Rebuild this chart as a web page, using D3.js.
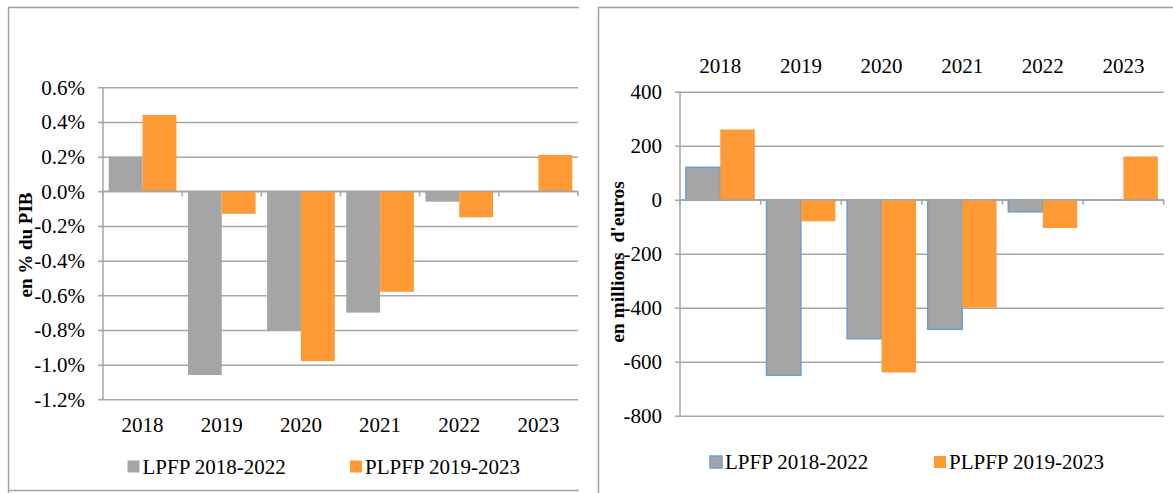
<!DOCTYPE html>
<html>
<head>
<meta charset="utf-8">
<script src="https://cdn.jsdelivr.net/npm/d3@7"></script>
<style>
  body { margin: 0; background: #fff; }
  svg text { font-family: "Liberation Serif", "Times New Roman", serif; fill: #000; }
</style>
</head>
<body>
<svg id="chart" width="1173" height="493"></svg>
<script>
const years = ["2018", "2019", "2020", "2021", "2022", "2023"]
const seriesNames = ["LPFP 2018-2022", "PLPFP 2019-2023"]

// deficit in % of GDP
const pibLPFP = [0.20, -1.06, -0.80, -0.70, -0.06, null]
const pibPLPFP = [0.44, -0.13, -0.98, -0.58, -0.15, 0.21]
const pibTicks = [0.6, 0.4, 0.2, 0.0, -0.2, -0.4, -0.6, -0.8, -1.0, -1.2]

// in millions of euros
const eurLPFP = [120, -650, -515, -480, -45, null]
const eurPLPFP = [260, -80, -640, -400, -105, 160]
const eurTicks = [400, 200, 0, -200, -400, -600, -800]

const GRAY = "#a5a5a5"
const ORANGE = "#ff9a35"
const BLUE = "#6a9fd6"
const GRID = "#a6a6a6"
const FONT = '"Liberation Serif", "Times New Roman", serif'

const svg = d3.select("#chart")

// panel frames
const frame = svg.append("g").attr("stroke", "#a0a0a0").attr("stroke-width", 1.5).attr("fill", "none")
frame.append("path").attr("d", "M8.5,493 V7.5 H579")
frame.append("path").attr("d", "M8.5,490.5 H579")
frame.append("path").attr("d", "M598.5,493 V7.5 H1173")

function drawChart(opts) {
  const g = svg.append("g")
  const x = d3.scaleBand().domain(years).range([opts.x0, opts.x1])
  const xs = d3.scaleBand().domain(seriesNames).range([0, x.bandwidth()]).paddingOuter(0.17)
  const y = d3.scaleLinear().domain(opts.domain).range([opts.y0, opts.y1])

  // gridlines + tick labels
  const yAxis = d3.axisLeft(y)
    .tickValues(opts.ticks)
    .tickSize(-(opts.x1 - opts.x0 + 5))
    .tickPadding(13)
    .tickFormat(opts.fmt)
  const ya = g.append("g")
    .attr("transform", `translate(${opts.x0 - 5},0)`)
    .call(yAxis)
    .attr("font-family", null)
    .attr("font-size", null)
  ya.select(".domain").remove()
  ya.selectAll(".tick line").attr("stroke", GRID).attr("stroke-width", 1.5)
  ya.selectAll(".tick text")
    .attr("fill", "#000")
    .style("font-size", "21px")
    .style("font-family", FONT)

  // bars
  const rows = years.map((yr, i) => ({ year: yr, vals: [opts.a[i], opts.b[i]] }))
  const grp = g.selectAll(".cat").data(rows).join("g")
    .attr("class", "cat")
    .attr("transform", d => `translate(${x(d.year)},0)`)
  grp.selectAll("rect")
    .data(d => d.vals.map((v, j) => ({ v, s: seriesNames[j], j })).filter(e => e.v !== null))
    .join("rect")
    .attr("x", d => xs(d.s))
    .attr("width", xs.bandwidth())
    .attr("y", d => y(Math.max(0, d.v)))
    .attr("height", d => Math.abs(y(d.v) - y(0)))
    .attr("fill", d => d.j === 0 ? GRAY : ORANGE)
    .attr("stroke", d => d.j === 0 ? opts.grayStroke : "none")
    .attr("stroke-width", 1.5)

  // axes lines
  g.append("line")
    .attr("x1", opts.x0).attr("x2", opts.x0)
    .attr("y1", opts.y1).attr("y2", opts.y0)
    .attr("stroke", GRID).attr("stroke-width", 1.5)
  g.append("line")
    .attr("x1", opts.x0).attr("x2", opts.x1)
    .attr("y1", y(0)).attr("y2", y(0))
    .attr("stroke", GRID).attr("stroke-width", 1.5)
  const bounds = years.map(yr => x(yr)).concat([opts.x1])
  g.selectAll(".xtick").data(bounds).join("line")
    .attr("x1", d => d).attr("x2", d => d)
    .attr("y1", y(0)).attr("y2", y(0) + 5)
    .attr("stroke", GRID).attr("stroke-width", 1.5)

  // category labels
  g.selectAll(".year").data(years).join("text")
    .attr("x", d => x(d) + x.bandwidth() / 2)
    .attr("y", opts.yearY)
    .attr("dy", "0.35em")
    .attr("text-anchor", "middle")
    .style("font-size", "21px")
    .style("font-family", FONT)
    .text(d => d)

  // axis title
  g.append("text")
    .attr("transform", `translate(${opts.titleX},${opts.titleY}) rotate(-90)`)
    .attr("text-anchor", "middle")
    .attr("dy", "0.35em")
    .style("font-size", opts.titleFont + "px")
    .style("font-weight", "bold")
    .style("font-family", FONT)
    .style("white-space", "pre")
    .text(opts.title)

  // legend
  const leg = g.selectAll(".leg").data(seriesNames).join("g")
    .attr("transform", (d, i) => `translate(${opts.legX[i]},${opts.legY})`)
  leg.append("rect")
    .attr("x", 0).attr("y", -6)
    .attr("width", 12).attr("height", 12)
    .attr("fill", (d, i) => i === 0 ? GRAY : ORANGE)
    .attr("stroke", (d, i) => i === 0 ? opts.grayStroke : "none")
    .attr("stroke-width", 1.5)
  leg.append("text")
    .attr("x", 15)
    .attr("dy", "0.35em")
    .style("font-size", "21px")
    .style("font-family", FONT)
    .text(d => d)
}

drawChart({
  a: pibLPFP, b: pibPLPFP, ticks: pibTicks,
  domain: [0.6, -1.2], y0: 87.3, y1: 399.3, x0: 103, x1: 578,
  fmt: d => d.toFixed(1) + "%",
  yearY: 425,
  title: "en % du PIB", titleX: 25, titleY: 245, titleFont: 19,
  legX: [127.5, 350], legY: 466.5,
  grayStroke: "none"
})

drawChart({
  a: eurLPFP, b: eurPLPFP, ticks: eurTicks,
  domain: [400, -800], y0: 91.7, y1: 415.7, x0: 680, x1: 1163.7,
  fmt: d => String(d),
  yearY: 66,
  title: "en millions  d'euros", titleX: 617, titleY: 262, titleFont: 19.5,
  legX: [710, 934], legY: 462,
  grayStroke: BLUE
})
</script>
</body>
</html>
